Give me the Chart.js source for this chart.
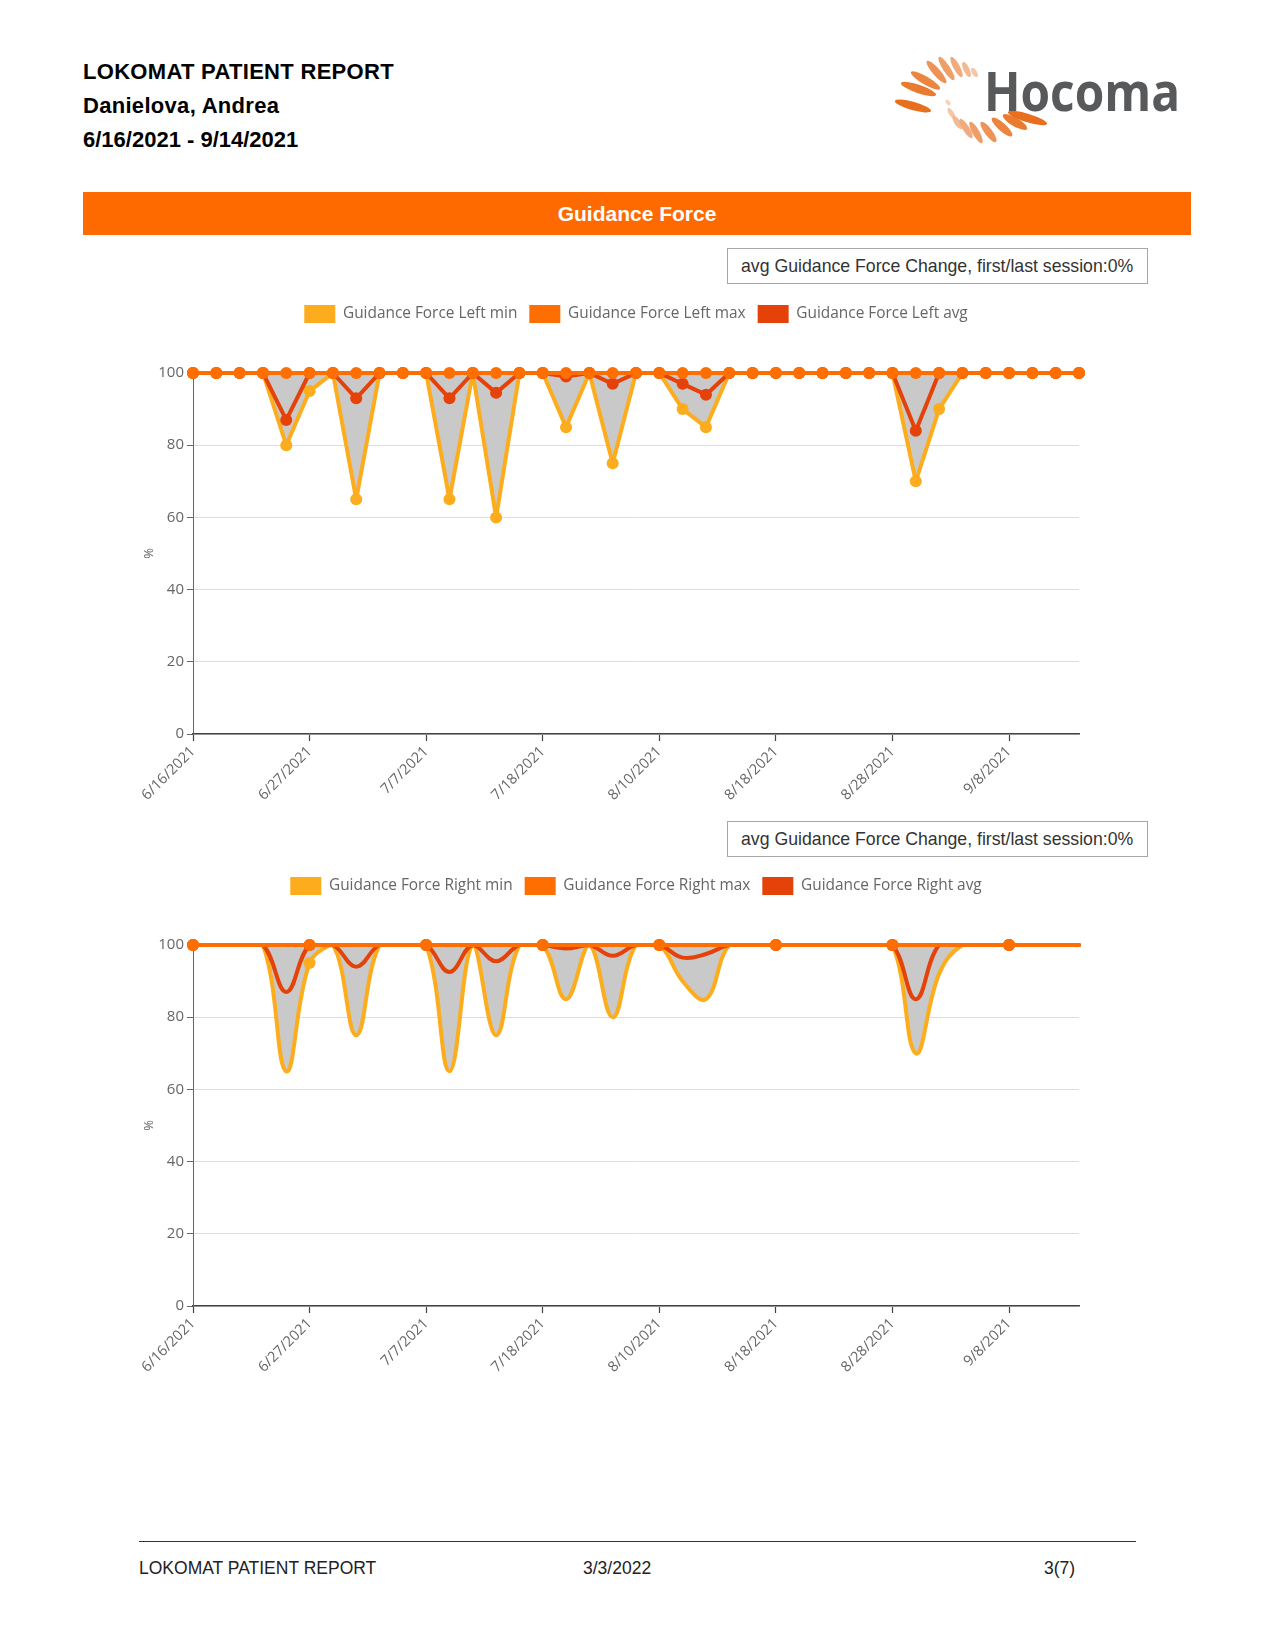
<!DOCTYPE html>
<html><head><meta charset="utf-8">
<script src="https://cdn.jsdelivr.net/npm/chart.js@4.4.1/dist/chart.umd.min.js"></script>
<style>
html,body{margin:0;padding:0;background:#fff;}
body{width:1275px;height:1650px;position:relative;overflow:hidden;font-family:"Liberation Sans",Arial,sans-serif;}
.hdr{position:absolute;left:83px;font-weight:bold;font-size:22px;line-height:24px;color:#000;white-space:nowrap;letter-spacing:0.3px;}
.band{position:absolute;left:83px;top:192px;width:1108px;height:43px;background:#FF6A00;color:#fff;font-weight:bold;font-size:21px;line-height:43px;text-align:center;}
.box{position:absolute;left:727px;width:406px;height:34px;border:1px solid #a6a6a6;font-size:17.7px;line-height:34px;color:#333;padding-left:13px;box-sizing:content-box;white-space:nowrap;}
.chartwrap{position:absolute;left:120.6px;width:1030px;}
.foot{position:absolute;top:1557px;font-size:17.5px;line-height:22px;color:#222;white-space:nowrap;}
.fline{position:absolute;left:139px;top:1541px;width:997px;height:1px;background:#333;}
</style></head>
<body>
<div class="hdr" style="top:60px">LOKOMAT PATIENT REPORT</div>
<div class="hdr" style="top:94px">Danielova, Andrea</div>
<div class="hdr" style="top:128px;letter-spacing:0">6/16/2021 - 9/14/2021</div>

<svg id="logo" style="position:absolute;left:880px;top:45px" width="310" height="115" viewBox="880 45 310 115">
  <g id="petals"></g>
  <text x="984" y="111" font-family="Open Sans, sans-serif" font-weight="bold" font-size="53" fill="#58595b" textLength="196" lengthAdjust="spacingAndGlyphs">Hocoma</text>
</svg>

<div class="band">Guidance Force</div>

<div class="box" style="top:248px">avg Guidance Force Change, first/last session:0%</div>
<div class="chartwrap" style="top:292.5px;height:521px"><canvas id="c1"></canvas></div>

<div class="box" style="top:821px">avg Guidance Force Change, first/last session:0%</div>
<div class="chartwrap" style="top:865px;height:521px"><canvas id="c2"></canvas></div>

<div class="fline"></div>
<div class="foot" style="left:139px">LOKOMAT PATIENT REPORT</div>
<div class="foot" style="left:583px">3/3/2022</div>
<div class="foot" style="left:1044px">3(7)</div>

<script>
// ---- data ----
const sessionDates = ['6/16/2021','','','','','6/27/2021','','','','',
  '7/7/2021','','','','','7/18/2021','','','','',
  '8/10/2021','','','','','8/18/2021','','','','',
  '8/28/2021','','','','','9/8/2021','','','9/14/2021'];
const tickEvery = 5;

const leftNames = ['Guidance Force Left min','Guidance Force Left max','Guidance Force Left avg'];
const rightNames = ['Guidance Force Right min','Guidance Force Right max','Guidance Force Right avg'];

const leftMin = [100,100,100,100,80,95,100,65,100,100, 100,65,100,60,100,100,85,100,75,100,
  100,90,85,100,100,100,100,100,100,100, 100,70,90,100,100,100,100,100,100];
const leftMax = [100,100,100,100,100,100,100,100,100,100, 100,100,100,100,100,100,100,100,100,100,
  100,100,100,100,100,100,100,100,100,100, 100,100,100,100,100,100,100,100,100];
const leftAvg = [100,100,100,100,87,100,100,93,100,100, 100,93,100,94.5,100,100,99,100,97,100,
  100,97,94,100,100,100,100,100,100,100, 100,84,100,100,100,100,100,100,100];

const rightMin = [100,100,100,100,65,95,100,75,100,100, 100,65,100,75,100,100,85,100,80,100,
  100,90,85,100,100,100,100,100,100,100, 100,70,92,100,100,100,100,100,100];
const rightMax = [100,100,100,100,100,100,100,100,100,100, 100,100,100,100,100,100,100,100,100,100,
  100,100,100,100,100,100,100,100,100,100, 100,100,100,100,100,100,100,100,100];
const rightAvg = [100,100,100,100,87,100,100,94,100,100, 100,92.5,100,95.5,100,100,99,100,97,100,
  100,96.5,97.5,100,100,100,100,100,100,100, 100,85,100,100,100,100,100,100,100];

const yTicks = [0,20,40,60,80,100];

// ---- logo (decoration) ----
(function(){
  const petals = [
    [895,101,931,111,8.5,'#E86F1E'],[901,83,936,95,8.5,'#EA7A2E'],[911,72,940,89,8,'#EC8540'],
    [927,61,946,83,7.5,'#EE9256'],[939,57,954,80,7,'#F09E68'],[951,57,962,77,6.5,'#F2AA7C'],
    [963,62,970,77,6,'#F4B892'],[972,68,977,77,5,'#F6C6A6'],
    [946,100,950,105,4,'#F8D2B8'],[948,108,955,119,5,'#F6C6A6'],[953,116,962,129,6,'#F4B892'],
    [960,119,972,138,6.5,'#F2AA7C'],[970,122,982,143,7,'#F09E68'],[981,122,996,142,7.5,'#EE9256'],
    [992,118,1012,136,8,'#EC8540'],[1003,115,1027,129,8.5,'#EA7A2E'],[1008,112,1047,124,8.5,'#E86F1E']
  ];
  const g = document.getElementById('petals');
  petals.forEach(p => {
    const [x1,y1,x2,y2,w,c] = p;
    const cx=(x1+x2)/2, cy=(y1+y2)/2, len=Math.hypot(x2-x1,y2-y1);
    const ang=Math.atan2(y2-y1,x2-x1)*180/Math.PI;
    const e=document.createElementNS('http://www.w3.org/2000/svg','ellipse');
    e.setAttribute('cx',cx);e.setAttribute('cy',cy);e.setAttribute('rx',len/2);e.setAttribute('ry',w/2);
    e.setAttribute('fill',c);e.setAttribute('transform','rotate('+ang+' '+cx+' '+cy+')');
    g.appendChild(e);
  });
})();

// ---- charts ----
Chart.defaults.font.family = "'Open Sans','Noto Sans',sans-serif";
Chart.defaults.animation = false;

const YEL='#FCAC1C', ORG='#FF6E00', RED='#E5420A', GRAY='#C9C9C9';

const legendSpace = {
  id:'legendSpace',
  beforeLayout(chart, args, opts){
    const lg = chart.legend;
    if (lg && !lg._patched){
      const f = lg.fit;
      lg.fit = function(){ f.call(this); this.height = opts.height; };
      lg._patched = true;
    }
  }
};

function buildChart(id, names, minV, maxV, avgV, smooth){
  const radius = smooth ? (ctx => ctx.dataIndex % tickEvery === 0 ? 6 : 0) : 6;
  const common = {borderWidth:4, borderJoinStyle:'round', borderCapStyle:'round',
    pointRadius:radius, pointHoverRadius:radius, pointBorderWidth:0,
    tension: smooth ? 0.4 : 0, clip:false};
  return new Chart(document.getElementById(id), {
    type:'line',
    data:{ labels: sessionDates, datasets:[
      Object.assign({label:names[0], data:minV, borderColor:YEL, backgroundColor:GRAY, fill:1, order:2,
        pointBackgroundColor:YEL, pointBorderColor:YEL}, common),
      Object.assign({label:names[1], data:maxV, borderColor:ORG, backgroundColor:ORG, fill:false, order:0,
        pointBackgroundColor:ORG, pointBorderColor:ORG}, common),
      Object.assign({label:names[2], data:avgV, borderColor:RED, backgroundColor:RED, fill:false, order:1,
        pointBackgroundColor:RED, pointBorderColor:RED}, common)
    ]},
    options:{
      responsive:true, maintainAspectRatio:false,
      layout:{padding:0},
      plugins:{
        legendSpace:{height:80},
        tooltip:{enabled:false},
        legend:{position:'top', align:'center',
          labels:{boxWidth:31, boxHeight:18, padding:12, color:'#666', font:{size:15.4},
            sort:(a,b)=>a.datasetIndex-b.datasetIndex,
            generateLabels(chart){
              const items = Chart.defaults.plugins.legend.labels.generateLabels(chart);
              items.forEach(it=>{const ds=chart.data.datasets[it.datasetIndex]; it.fillStyle=ds.borderColor; it.strokeStyle=ds.borderColor; it.lineWidth=0;});
              return items;
            }}}
      },
      scales:{
        x:{type:'category', offset:false,
          grid:{drawOnChartArea:false, tickLength:7, tickWidth:1.2,
            tickColor: ctx => (ctx.index % tickEvery === 0 ? '#444' : 'rgba(0,0,0,0)')},
          border:{color:'#444', width:1.5},
          ticks:{autoSkip:false, minRotation:45, maxRotation:45, color:'#666', font:{size:14.5}, padding:2,
            callback:(v,i)=> (i % tickEvery === 0 ? sessionDates[i] : '')},
          afterFit:(s)=>{ s.height = 80; s.paddingRight = 72; }
        },
        y:{min:0, max:100,
          afterBuildTicks:(s)=>{ s.ticks = yTicks.map(v=>({value:v})); },
          grid:{color:'#dedede', tickLength:6, tickColor:'#666'},
          border:{color:'#666', width:1},
          ticks:{color:'#666', font:{size:15}, padding:3},
          title:{display:true, text:'%', color:'#666', font:{size:13}, padding:{top:20,bottom:0}},
          afterFit:(s)=>{ s.width = 72; }
        }
      }
    },
    plugins:[legendSpace]
  });
}

buildChart('c1', leftNames, leftMin, leftMax, leftAvg, false);
buildChart('c2', rightNames, rightMin, rightMax, rightAvg, true);
</script>
</body></html>
